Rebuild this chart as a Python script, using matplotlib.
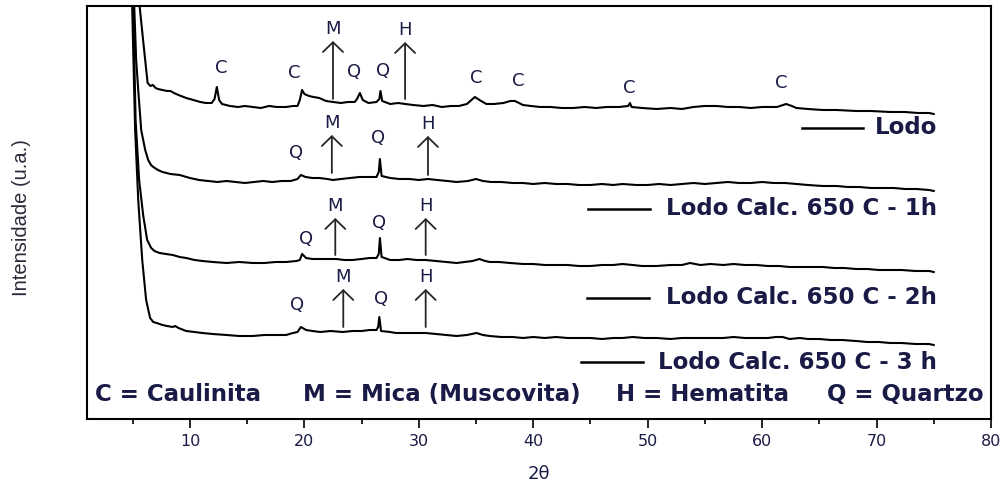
import matplotlib
matplotlib.use("Agg")
import matplotlib.pyplot as plt

# diffractograms: 2theta (deg) and intensity (a.u., curves offset)
lodo_2t = [5.40, 5.60, 5.95, 6.30, 6.55, 6.76, 7.0, 7.2, 7.6, 8.0, 8.3, 8.6, 9.0, 9.67,
           10.3, 10.9, 11.4, 11.9, 12.15, 12.35, 12.55, 12.8, 13.5, 14.2, 14.8, 15.5,
           16.2, 16.9, 17.6, 18.4, 19.0, 19.4, 19.6, 19.8, 20.0, 20.4, 20.8, 21.3, 21.9,
           22.5, 23.2, 23.8, 24.4, 24.6, 24.85, 25.1, 25.6, 26.3, 26.55, 26.65, 26.8,
           27.5, 28.2, 28.8, 29.5, 30.4, 31.2, 32.0, 32.8, 33.5, 34.2, 34.6, 34.9, 35.3,
           35.9, 36.6, 37.4, 38.0, 38.4, 39.1, 39.8, 40.6, 41.5, 42.5, 43.5, 44.5, 45.5,
           46.4, 47.5, 48.3, 48.45, 48.6, 49.5, 50.8, 52.0, 53.0, 54.0, 55.0, 56.0, 57.0,
           58.0, 59.0, 60.0, 61.3, 62.1, 62.6, 63.0, 64.0, 65.3, 66.5, 68.2, 69.5, 71.2,
           72.5, 73.6, 74.6, 75.0]
lodo_i = [439, 413, 374, 336, 333, 334, 331, 330, 329, 328, 328, 326, 324, 321,
          319, 317, 316, 316, 320, 332, 319, 315, 313, 312, 313, 312,
          311, 313, 312, 312, 313, 313, 319, 329, 325, 323, 322, 321, 318,
          317, 316, 317, 317, 320, 326, 319, 316, 317, 320, 328, 318,
          315, 316, 315, 314, 313, 314, 312, 313, 313, 315, 319, 322, 319,
          315, 315, 316, 318, 318, 314, 313, 312, 312, 311, 311, 312, 311,
          312, 312, 313, 316, 312, 311, 310, 311, 310, 312, 313, 313, 312,
          312, 311, 312, 312, 315, 313, 311, 310, 309, 309, 308, 308, 307,
          307, 306, 306, 305]

h1_2t = [5.05, 5.13, 5.30, 5.48, 5.74, 6.09, 6.35, 6.6, 6.8, 7.2, 7.6, 8.3, 9.1, 10.0,
         10.8, 11.6, 12.4, 13.2, 14.0, 14.8, 15.6, 16.4, 17.2, 18.0, 18.8, 19.4, 19.7,
         20.1, 20.7, 21.3, 22.0, 22.5, 23.2, 24.0, 24.8, 25.6, 26.3, 26.5, 26.6, 26.75,
         27.5, 28.3, 29.2, 30.0, 30.8, 31.6, 32.5, 33.3, 34.3, 35.0, 35.6, 36.3, 37.2,
         38.2, 39.1, 40.0, 41.0, 42.0, 43.0, 44.0, 45.0, 46.0, 47.0, 47.8, 49.0, 50.0,
         51.0, 52.0, 53.0, 54.0, 55.0, 56.0, 57.0, 58.0, 59.0, 60.0, 61.0, 62.0, 63.0,
         64.0, 65.3, 66.5, 67.5, 68.5, 69.5, 70.5, 71.5, 72.5, 73.5, 74.6, 75.0]
h1_i = [439, 413, 359, 329, 289, 269, 259, 254, 252, 249, 247, 245, 244, 241,
        239, 238, 237, 238, 237, 236, 237, 238, 237, 238, 238, 240, 244,
        242, 241, 241, 240, 239, 240, 241, 242, 242, 242, 247, 260, 243,
        241, 240, 240, 239, 240, 239, 238, 237, 238, 240, 238, 237, 237,
        236, 236, 235, 236, 235, 235, 234, 234, 235, 234, 235, 234, 234,
        235, 234, 235, 236, 235, 236, 237, 236, 236, 237, 236, 236, 235,
        234, 233, 233, 232, 232, 231, 231, 231, 230, 230, 229, 228]

h2_2t = [4.98, 5.04, 5.25, 5.56, 5.91, 6.26, 6.61, 6.9, 7.34, 7.9, 8.5, 9.1, 9.67, 10.4,
         11.1, 12.0, 13.2, 14.3, 15.5, 16.5, 17.5, 18.4, 19.3, 19.6, 19.8, 20.15, 20.7,
         21.3, 22.0, 22.8, 23.5, 24.2, 25.0, 25.7, 26.3, 26.5, 26.6, 26.75, 27.5, 28.3,
         29.0, 29.8, 30.6, 31.5, 32.4, 33.3, 34.0, 34.7, 35.3, 35.8, 36.2, 37.0, 38.0,
         39.1, 40.0, 41.0, 42.0, 43.0, 44.0, 45.0, 46.0, 47.0, 47.8, 48.7, 49.5, 50.8,
         52.0, 53.0, 53.7, 54.6, 55.5, 56.6, 57.5, 58.5, 59.5, 60.5, 61.5, 62.4, 63.3,
         64.3, 65.3, 66.3, 67.2, 68.2, 69.2, 70.2, 71.2, 72.2, 73.4, 74.6, 75.0]
h2_i = [439, 413, 299, 239, 204, 179, 171, 168, 166, 165, 164, 162, 161, 159,
        158, 157, 156, 157, 156, 156, 157, 157, 158, 159, 165, 161, 160,
        160, 160, 160, 159, 159, 160, 161, 161, 165, 181, 162, 159, 159,
        160, 159, 159, 158, 157, 156, 157, 158, 160, 158, 157, 157, 156,
        155, 155, 154, 154, 154, 153, 153, 154, 154, 155, 154, 153, 153,
        154, 154, 156, 154, 155, 154, 155, 154, 154, 153, 153, 152, 152,
        152, 152, 151, 151, 150, 150, 149, 149, 149, 148, 148, 147]

h3_2t = [4.88, 4.95, 5.21, 5.48, 5.83, 6.17, 6.52, 6.79, 7.1, 7.6, 8.0, 8.5, 8.7, 9.0,
         9.67, 10.4, 11.1, 12.0, 13.2, 14.3, 15.5, 16.5, 17.5, 18.4, 19.0, 19.4, 19.7,
         20.15, 20.7, 21.4, 22.3, 23.35, 24.2, 25.0, 25.7, 26.3, 26.45, 26.55, 26.7,
         27.5, 28.0, 28.8, 29.6, 30.6, 31.5, 32.4, 33.3, 34.2, 35.05, 35.6, 36.2, 37.2,
         38.2, 39.1, 40.0, 41.0, 42.0, 43.0, 44.0, 45.0, 46.0, 47.0, 47.8, 48.7, 49.7,
         50.8, 52.0, 53.0, 54.0, 55.0, 56.6, 57.5, 58.5, 59.5, 60.5, 61.2, 61.8, 62.4,
         63.3, 64.0, 65.0, 66.0, 67.0, 68.2, 69.2, 70.2, 71.2, 72.2, 73.4, 74.6, 75.0]
h3_i = [439, 413, 289, 219, 159, 119, 101, 97, 96, 94, 93, 92, 93, 91,
        88, 87, 86, 85, 84, 83, 83, 84, 84, 84, 86, 87, 92,
        89, 88, 87, 88, 87, 88, 88, 89, 89, 92, 102, 88,
        87, 86, 86, 86, 86, 85, 84, 83, 84, 86, 84, 83, 82,
        82, 81, 82, 81, 82, 81, 81, 81, 80, 81, 81, 82, 81,
        81, 80, 81, 81, 81, 81, 82, 81, 81, 81, 82, 82, 80,
        81, 80, 80, 79, 79, 78, 77, 77, 76, 76, 75, 75, 74]

curve_names = ["Lodo", "Lodo Calc. 650 C - 1h", "Lodo Calc. 650 C - 2h",
               "Lodo Calc. 650 C - 3 h"]
# peak identification letters (phase, 2theta, height)
peak_letters = [("C", 12.7, 351), ("C", 19.1, 346), ("Q", 24.3, 347), ("Q", 26.9, 348),
                ("C", 35.0, 341), ("C", 38.7, 338), ("C", 48.4, 331), ("C", 61.7, 336),
                ("Q", 19.3, 266), ("Q", 26.4, 281),
                ("Q", 20.15, 180), ("Q", 26.5, 196),
                ("Q", 19.4, 114), ("Q", 26.7, 120)]
# arrows: phase, 2theta, from, to
peak_arrows = [("M", 22.5, 320, 378), ("H", 28.8, 320, 377),
               ("M", 22.4, 246, 284), ("H", 30.8, 244, 283),
               ("M", 22.7, 164, 201), ("H", 30.6, 164, 201),
               ("M", 23.4, 92, 130), ("H", 30.6, 92, 130)]
legend_phases = ["C = Caulinita", "M = Mica (Muscovita)", "H = Hematita", "Q = Quartzo"]

navy = "#1a1a46"

fig = plt.figure(figsize=(10.03, 4.83), dpi=100)
ax = fig.add_axes([0.0867, 0.1325, 0.9013, 0.8551])

for tt, ii in [(lodo_2t, lodo_i), (h1_2t, h1_i), (h2_2t, h2_i), (h3_2t, h3_i)]:
    ax.plot(tt, ii, color="black", lw=1.5)

for letter, t, y in peak_letters:
    ax.text(t, y, letter, color=navy, fontsize=13, ha="center", va="center")

for letter, t, y0, y1 in peak_arrows:
    ax.annotate("", xy=(t, y1), xytext=(t, y0),
                arrowprops=dict(arrowstyle="->,head_length=0.35,head_width=0.36",
                                lw=1.3, color="#262626", mutation_scale=20,
                                shrinkA=0, shrinkB=0))
    ax.text(t, y1 + 12, letter, color=navy, fontsize=13, ha="center", va="center")

# curve legends: short line + name
label_lines = [(63.5, 68.8, 291), (44.8, 50.2, 210), (44.7, 50.1, 121), (44.2, 49.6, 57)]
for name, (xa, xb, y) in zip(curve_names, label_lines):
    ax.plot([xa, xb], [y, y], color="black", lw=1.8)
    ax.text(75.3, y, name, color=navy, fontsize=16.5, fontweight="bold",
            ha="right", va="center")

for name, xc in zip(legend_phases, [8.97, 32.0, 54.8, 72.55]):
    ax.text(xc, 25, name, color=navy, fontsize=16.5, fontweight="bold",
            ha="center", va="center")

ax.set_xlim(1, 80)
ax.set_ylim(0, 413)
ax.set_xticks(range(10, 81, 10))
ax.set_xticks(range(5, 80, 10), minor=True)
ax.set_yticks([])
ax.tick_params(axis="x", which="major", direction="out", length=6.5, width=1.2,
               labelsize=11.5, labelcolor=navy, pad=4)
ax.tick_params(axis="x", which="minor", direction="out", length=3.5, width=1.2)
for s in ax.spines.values():
    s.set_linewidth(1.5)

ax.set_xlabel("2θ", fontsize=13, color=navy, labelpad=12)
ax.set_ylabel("Intensidade (u.a.)", fontsize=14.5, color="#2a2a3a",
              family=["Liberation Sans", "DejaVu Sans"])
ax.yaxis.set_label_coords(-0.062, 0.487)

fig.savefig("out.png", dpi=100)
